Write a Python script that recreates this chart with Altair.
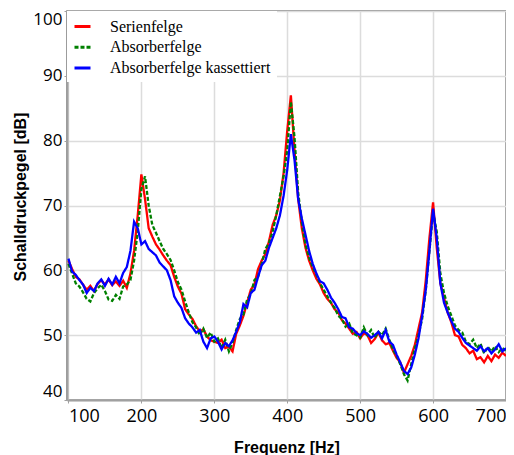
import altair as alt
import pandas as pd

freq = [100, 105, 110, 115, 120, 125, 130, 135, 140, 145, 150, 155, 160, 165, 170, 175, 180, 185, 190, 195,
        200, 205, 210, 215, 220, 225, 230, 235, 240, 245, 250, 255, 260, 265, 270, 275, 280, 285, 290, 295,
        300, 305, 310, 315, 320, 325, 330, 335, 340, 345, 350, 355, 360, 365, 370, 375, 380, 385, 390, 395,
        400, 405, 410, 415, 420, 425, 430, 435, 440, 445, 450, 455, 460, 465, 470, 475, 480, 485, 490, 495,
        500, 505, 510, 515, 520, 525, 530, 535, 540, 545, 550, 555, 560, 565, 570, 575, 580, 585, 590, 595,
        600, 605, 610, 615, 620, 625, 630, 635, 640, 645, 650, 655, 660, 665, 670, 675, 680, 685, 690, 695,
        700]

serienfelge = [61.5, 60.2, 59.0, 58.6, 57.8, 57.0, 57.6, 56.8, 57.9, 58.5, 57.8, 58.6, 57.7, 58.3, 57.6, 58.4, 57.3, 59.5, 63.0, 68.5,
               74.8, 71.0, 66.5, 65.2, 64.0, 63.2, 62.3, 61.5, 60.8, 59.0, 57.5, 56.4, 54.0, 53.2, 52.5, 51.4, 50.6, 50.9, 49.8, 49.2,
               49.0, 48.8, 49.3, 48.0, 48.2, 47.5, 50.2, 51.5, 53.0, 55.0, 57.0, 57.8, 60.2, 61.5, 62.5, 64.5, 67.0, 68.5, 70.8, 75.0,
               81.5, 87.0, 78.5, 71.0, 66.5, 63.5, 61.5, 60.0, 58.7, 57.8, 56.5, 55.6, 55.0, 54.0, 53.5, 52.3, 51.8, 51.0, 50.2, 50.5,
               49.5, 50.3, 50.0, 48.8, 49.4, 50.4, 49.2, 48.6, 48.8, 47.6, 46.5, 45.8, 44.2, 45.5, 46.8, 48.5, 51.0, 53.5, 58.5, 65.0,
               70.5, 63.5, 58.0, 55.8, 53.5, 52.0, 50.0, 49.8, 48.5, 48.0, 47.2, 47.6, 46.3, 46.6, 45.8, 46.8, 46.0, 47.0, 46.5, 47.3,
               46.8]

absorberfelge = [61.0, 59.5, 58.0, 57.5, 56.6, 55.6, 55.2, 56.5, 57.2, 57.8, 56.8, 55.5, 55.3, 56.2, 55.6, 57.5, 57.8, 58.5, 61.5, 66.0,
                 72.5, 74.5, 70.0, 67.0, 65.8, 64.5, 63.3, 62.5, 61.6, 60.0, 58.2, 57.0, 55.2, 53.5, 52.0, 51.2, 50.0, 51.0, 49.6, 50.4,
                 49.0, 49.5, 48.0, 49.3, 47.5, 48.8, 50.8, 52.5, 53.2, 55.5, 56.3, 58.5, 59.0, 61.0, 63.3, 64.2, 66.0, 68.5, 71.5, 74.5,
                 78.5, 86.0, 80.5, 72.0, 67.5, 64.0, 62.0, 60.5, 59.3, 58.0, 57.0, 56.0, 55.0, 54.2, 53.0, 52.5, 51.3, 51.8, 50.3, 50.0,
                 49.6, 51.2, 50.0, 50.8, 49.6, 50.5, 50.0, 51.0, 49.3, 47.8, 46.8, 45.5, 44.0, 43.0, 45.5, 48.0, 50.0, 52.5, 57.0, 63.0,
                 69.0, 66.0, 59.5, 56.5, 54.5, 53.0, 51.5, 50.8, 50.4, 49.0, 48.6, 49.3, 48.0, 48.7, 47.2, 48.2, 47.5, 48.3, 47.4, 48.0,
                 47.6]

kassettiert = [61.8, 59.8, 59.3, 58.5, 57.8, 56.5, 57.3, 56.8, 58.0, 58.6, 57.6, 58.7, 57.8, 59.0, 58.0, 59.6, 60.5, 63.0, 67.5, 66.5,
               64.0, 64.5, 63.3, 62.8, 62.3, 61.2, 60.6, 60.0, 58.5, 56.0, 55.0, 54.2, 52.6, 51.8, 51.2, 50.4, 50.8, 49.0, 48.0, 49.5,
               49.8, 49.0, 47.8, 48.8, 48.3, 49.2, 50.5, 52.0, 54.8, 54.3, 56.5, 57.0, 59.0, 60.8, 61.5, 63.5, 65.0, 66.5, 68.5, 71.5,
               75.5, 81.0, 77.0, 71.0, 68.0, 65.5, 63.0, 61.0, 59.5, 58.3, 58.0, 57.0, 55.8, 55.0, 54.0, 52.8, 52.6, 51.2, 51.0, 50.3,
               50.0, 50.6, 50.2, 49.6, 50.0, 50.5, 49.5, 50.8, 49.0, 48.5, 47.0, 45.8, 44.5, 44.0, 45.0, 47.0, 49.5, 53.0, 57.0, 63.0,
               69.5, 65.0, 58.0, 55.0, 53.5, 52.2, 51.0, 50.5, 49.6, 48.8, 48.4, 48.0, 47.6, 48.3, 47.5, 48.0, 47.2, 47.8, 48.6, 47.5,
               48.0]

series_names = ["Serienfelge", "Absorberfelge", "Absorberfelge kassettiert"]
series_colors = ["#ff0000", "#008000", "#0000ff"]
series_dash = [[1, 0], [4, 2], [1, 0]]
x_ticks = [100, 200, 300, 400, 500, 600, 700]
y_ticks = [40, 50, 60, 70, 80, 90, 100]

rows = []
for name, vals in zip(series_names, [serienfelge, absorberfelge, kassettiert]):
    for i, (f, v) in enumerate(zip(freq, vals)):
        rows.append({"f": f, "db": v, "serie": name, "order": i})
df = pd.DataFrame(rows)

legend = alt.Legend(
    title=None, orient="none", legendX=0, legendY=0,
    fillColor="white", padding=6, symbolType="stroke", symbolSize=256,
    symbolStrokeWidth=3, labelFont="Liberation Serif", labelFontSize=16,
    labelColor="black", labelOffset=18, rowPadding=2.7, labelLimit=300,
)

chart = alt.Chart(df).mark_line(strokeWidth=2.3).encode(
    x=alt.X("f:Q", scale=alt.Scale(domain=[98, 700], nice=False, zero=False),
            axis=alt.Axis(values=x_ticks, title="Frequenz [Hz]", labelFlush=5,
                          labelFontSize=18, labelPadding=4, titlePadding=14)),
    y=alt.Y("db:Q", scale=alt.Scale(domain=[40, 100], nice=False, zero=False),
            axis=alt.Axis(values=y_ticks, title="Schalldruckpegel [dB]", labelFlush=5,
                          labelFontSize=17, labelPadding=2, titleAnchor="start",
                          titleX=-39, titleY=270, titleAngle=-90, titleBaseline="bottom",
                          titleAlign="left")),
    color=alt.Color("serie:N", scale=alt.Scale(domain=series_names, range=series_colors), legend=legend),
    strokeDash=alt.StrokeDash("serie:N", scale=alt.Scale(domain=series_names, range=series_dash), legend=legend),
    order="order:Q",
).properties(
    width=439, height=389,
    autosize=alt.AutoSizeParams(type="none"),
    padding={"left": 59, "top": 3, "right": 0, "bottom": 55},
).configure_view(stroke="#777", strokeWidth=1.5).configure_axis(
    labelFont="Open Sans", labelColor="black", titleFont="Liberation Sans", titleFontSize=16,
    titleFontWeight="bold", titleColor="black", gridColor="#dcdcdc", gridWidth=1.5,
    domainColor="#a0a0a0", domainWidth=2, tickColor="#a0a0a0", tickSize=3,
)

chart.save("out.html", embed_options={"renderer": "svg", "actions": False})
